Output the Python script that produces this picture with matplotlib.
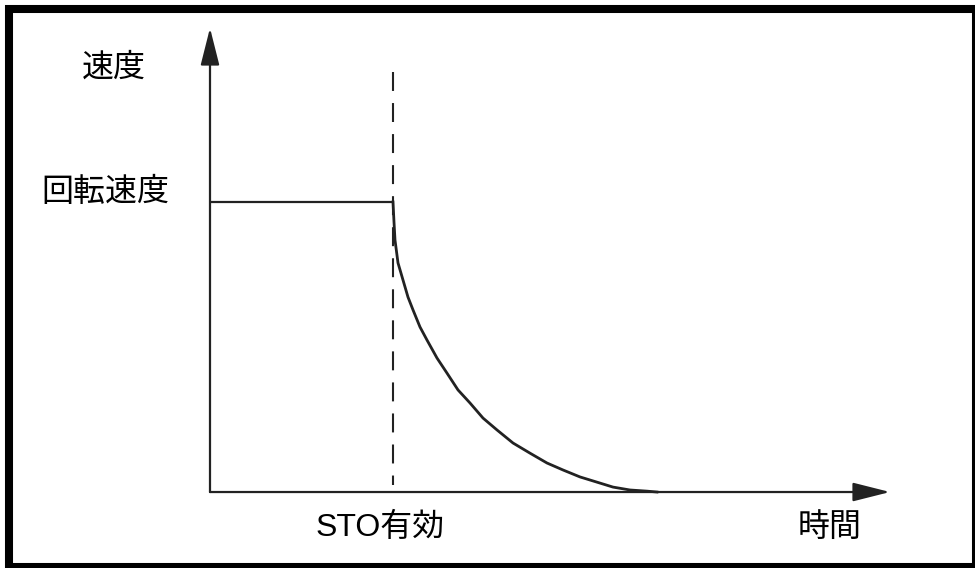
import numpy as np
import matplotlib.pyplot as plt
from matplotlib.patches import Rectangle

plt.rcParams['font.family'] = ['Noto Sans CJK JP', 'DejaVu Sans']

# time (arbitrary units) and speed (% of rated)
t_const = [0.0, 1.83]
v_const = [100, 100]
t_decay = [1.83, 1.84, 1.85, 1.88, 1.93, 1.98, 2.03, 2.10, 2.17, 2.27, 2.37,
           2.48, 2.60, 2.73, 2.87, 3.03, 3.20, 3.37, 3.53, 3.70, 3.87, 4.03,
           4.20, 4.37, 4.47]
v_decay = [100, 93.1, 86.9, 79.0, 73.1, 67.2, 62.8, 56.9, 52.4, 46.2, 41.0,
           35.2, 30.7, 25.5, 21.4, 16.9, 13.4, 10.0, 7.6, 5.2, 3.4, 1.7,
           0.7, 0.3, 0.0]
t_sto = 1.83
t_axis_end = 6.80
v_axis_end = 160.0
dash_top = 144.8
dash_bottom = 2.4

labels = {'speed': '速度', 'rated': '回転速度', 'sto': 'STO有効', 'time': '時間'}

fig = plt.figure(figsize=(9.75, 5.68), dpi=100)
ax = fig.add_axes([0, 0, 1, 1])
ax.set_xlim(-2.10, 7.65)
ax.set_ylim(-26.2, 169.66)
ax.axis('off')

col = '#222222'

# axes with arrow heads
arrow = dict(arrowstyle='-|>,head_length=23,head_width=5.8', mutation_scale=1,
             color=col, lw=1.6, shrinkA=0, shrinkB=0)
ax.annotate('', xy=(0, v_axis_end), xytext=(0, 0), arrowprops=arrow)
ax.annotate('', xy=(t_axis_end, 0), xytext=(0, 0), arrowprops=arrow)

# speed curve
ax.plot(t_const, v_const, color=col, lw=1.6, solid_capstyle='butt')
ax.plot(t_decay, v_decay, color=col, lw=2.0, solid_joinstyle='round')

# STO line
ax.plot([t_sto, t_sto], [dash_top, dash_bottom], color=col, lw=1.5,
        linestyle=(0, (9.1, 5.8)))

fs = 23
ax.text(-0.96, 146.2, labels['speed'], fontsize=fs, ha='center', va='center')
ax.text(-1.05, 103.4, labels['rated'], fontsize=fs, ha='center', va='center')
ax.text(1.70, -12.4, labels['sto'], fontsize=fs, ha='center', va='center',
        family=['Liberation Sans', 'Noto Sans CJK JP'])
ax.text(6.20, -12.1, labels['time'], fontsize=fs, ha='center', va='center')

# outer frame
ax.add_patch(Rectangle((9 / 975, 1 / 568), (976 - 9) / 975, (567 - 9) / 568,
                       transform=ax.transAxes, fill=False, ec='black', lw=5.8,
                       clip_on=False))

fig.savefig('out.png', dpi=100)
